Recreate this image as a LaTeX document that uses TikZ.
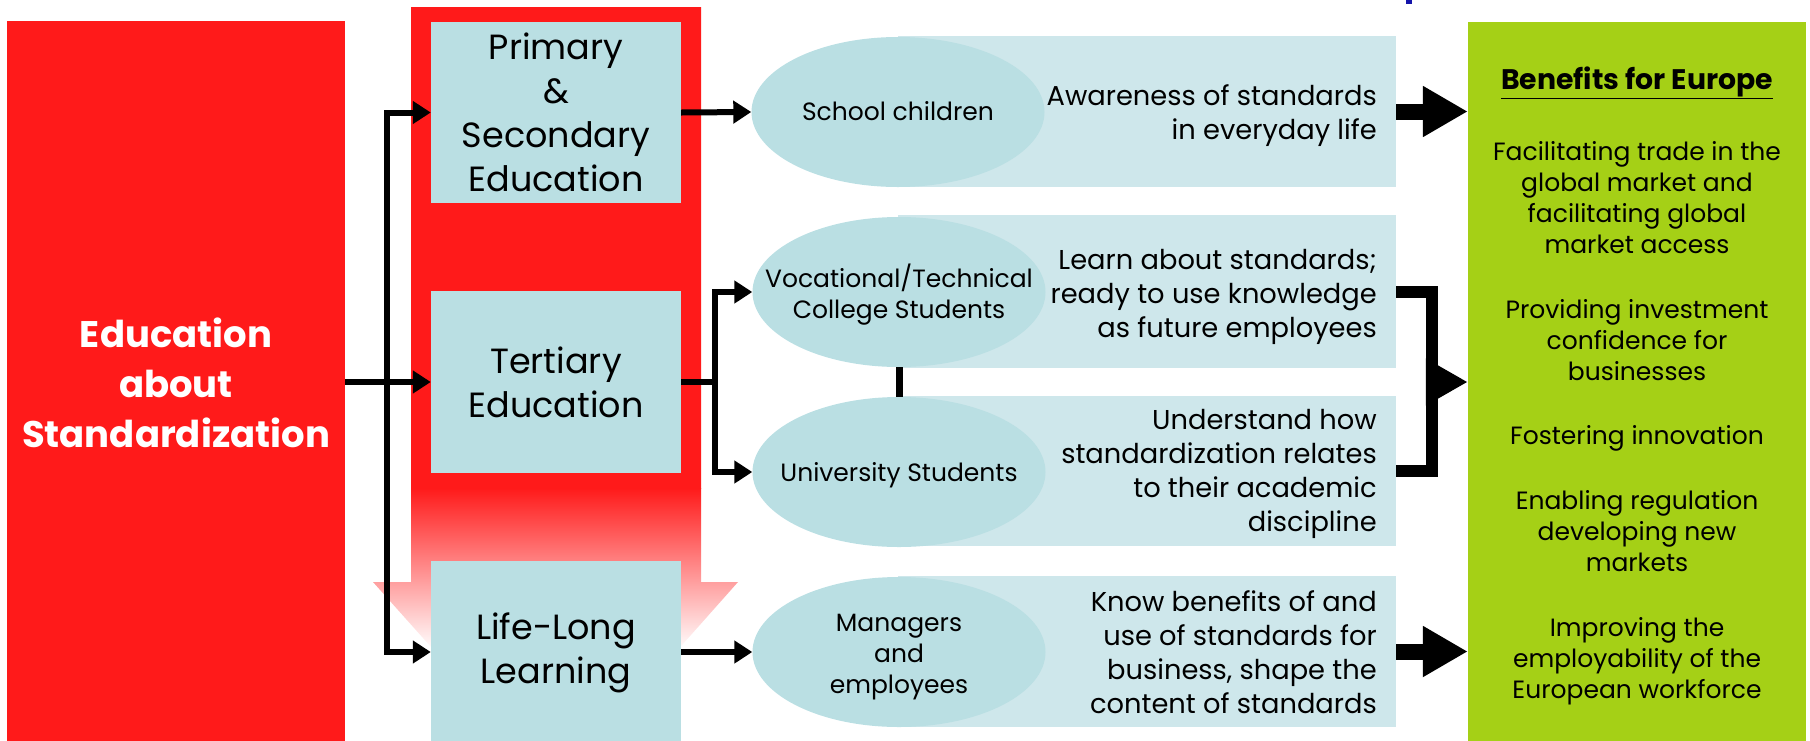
\documentclass[tikz,border=0pt]{standalone}
\usepackage{fontspec}
\setmainfont{Poppins}
\usetikzlibrary{shapes.geometric,arrows.meta,calc}
\definecolor{redA}{RGB}{255,26,26}
\definecolor{boxblue}{RGB}{186,223,227}
\definecolor{rectblue}{RGB}{206,231,235}
\definecolor{greenA}{RGB}{165,208,22}
\definecolor{markblue}{RGB}{20,20,170}
\begin{document}
\begin{tikzpicture}[x=1pt,y=-1pt,
  bigBox/.style={fill=redA, minimum width=338pt, minimum height=724pt, inner sep=0pt, align=center, text=white, font=\bfseries\fontsize{37}{50}\selectfont},
  eduBox/.style={fill=boxblue, minimum width=250pt, inner sep=0pt, align=center, font=\fontsize{35}{44}\selectfont},
  ellNode/.style={ellipse, fill=boxblue, minimum width=293pt, minimum height=150pt, inner sep=0pt},
  ellText/.style={align=center, inner sep=0pt, font=\fontsize{25}{31}\selectfont},
  rectNode/.style={fill=rectblue, minimum width=498pt, inner sep=0pt},
  rectText/.style={align=right, anchor=east, inner sep=0pt, font=\fontsize{27.3}{34}\selectfont},
  greenText/.style={align=center, inner sep=0pt, font=\fontsize{25}{31}\selectfont},
  headText/.style={inner sep=0pt, anchor=base, font=\bfseries\fontsize{28.3}{31}\selectfont},
  conn/.style={line width=6pt, -{Triangle[length=18pt,width=22pt]}},
  plainconn/.style={line width=6pt},
  fat/.style={line width=16pt, -{Triangle[length=45pt,width=48pt]}}
]
\useasboundingbox (0,0) rectangle (1810,740);
\clip (0,0) rectangle (1810,740);

% blue fragment at top
\fill[markblue] (1406,0) rectangle (1412,4);

% red down-arrow frame with fading
\begin{scope}
  \clip (411,7) -- (701,7) -- (701,582) -- (738,582) -- (556,787) -- (373,582) -- (411,582) -- cycle;
  \fill[redA] (360,0) rectangle (750,489);
  \shade[top color=redA, bottom color=white] (360,488) rectangle (750,650);
\end{scope}

% left red box
\node[bigBox] (big) at (176,383) {Education\\about\\Standardization};

% education boxes
\node[eduBox, minimum height=181pt] (prim) at (556,112.5) {Primary\\\&\\Secondary\\Education};
\node[eduBox, minimum height=182pt] (tert) at (556,382) {Tertiary\\Education};
\node[eduBox, minimum height=184pt] (life) at (556,653) {Life-Long\\Learning};

% light rectangles
\node[rectNode, minimum height=151pt] (r1) at (1147,111.5) {};
\node[rectNode, minimum height=153pt] (r2) at (1147,291.5) {};
\node[rectNode, minimum height=150pt] (r3) at (1147,471) {};
\node[rectNode, minimum height=151pt] (r4) at (1147,651.5) {};

% ellipses
\node[ellNode] (sc) at (898,112) {};
\node[ellNode] (voc) at (899,292) {};
\node[ellNode] (uni) at (899,472) {};
\node[ellNode] (mgr) at (899,652) {};
\node[ellText] (sct) at (898,111) {School children};
\node[ellText] (voct) at (899,295) {Vocational/Technical\\College Students};
\node[ellText] (unit) at (899,475) {University Students};
\node[ellText] (mgrt) at (899,657) {Managers\\and\\employees};

% outcome texts
\node[rectText] (t1) at (1377,116) {Awareness of standards\\in everyday life};
\node[rectText] (t2) at (1377,297) {Learn about standards;\\ready to use knowledge\\as future employees};
\node[rectText] (t3) at (1377,474) {Understand how\\standardization relates\\to their academic\\discipline};
\node[rectText] (t4) at (1377,652) {Know benefits of and\\use of standards for\\business, shape the\\content of standards};

% green box
\node[fill=greenA, minimum width=338pt, minimum height=723pt, inner sep=0pt] (green) at (1637,383.5) {};
\node[headText] (g0) at (1637,89) {\underline{Benefits for Europe}};
\node[greenText] (g1) at (1637,198) {Facilitating trade in the\\global market and\\facilitating global\\market access};
\node[greenText] (g2) at (1637,340) {Providing investment\\confidence for\\businesses};
\node[greenText, anchor=base] (g3) at (1637,444) {Fostering innovation};
\node[greenText] (g4) at (1637,531) {Enabling regulation\\developing new\\markets};
\node[greenText] (g5) at (1637,661) {Improving the\\employability of the\\European workforce};

% connectors
\coordinate (j1) at (387,382);
\draw[conn] (big.east |- j1) -- (tert.west |- j1);
\draw[conn] (j1) |- (prim.west);
\draw[conn] (j1) |- (life.west |- mgr.west);
\draw[conn] (prim.east) -- (sc.west);
\coordinate (j2) at (715,382);
\draw[plainconn] (tert.east) -- (j2);
\draw[conn] (j2) |- (voc.west);
\draw[conn] (j2) |- (uni.west);
\draw[conn] (life.east |- mgr.west) -- (mgr.west);
\draw[line width=7pt] (voc.south) -- (uni.north);

% big arrows to benefits
\draw[fat] (r1.east) -- (green.west |- r1.east);
\draw[fat] (r4.east) -- (green.west |- r4.east);
\coordinate (bx) at (1432,382);
\draw[line width=12pt, line join=miter] (r2.east) -| (bx) |- (r3.east);
\coordinate (bxl) at (1426,382);
\draw[line width=12pt, -{Triangle[length=42pt,width=44pt]}] (bxl) -- (green.west |- bxl);
\end{tikzpicture}
\end{document}
